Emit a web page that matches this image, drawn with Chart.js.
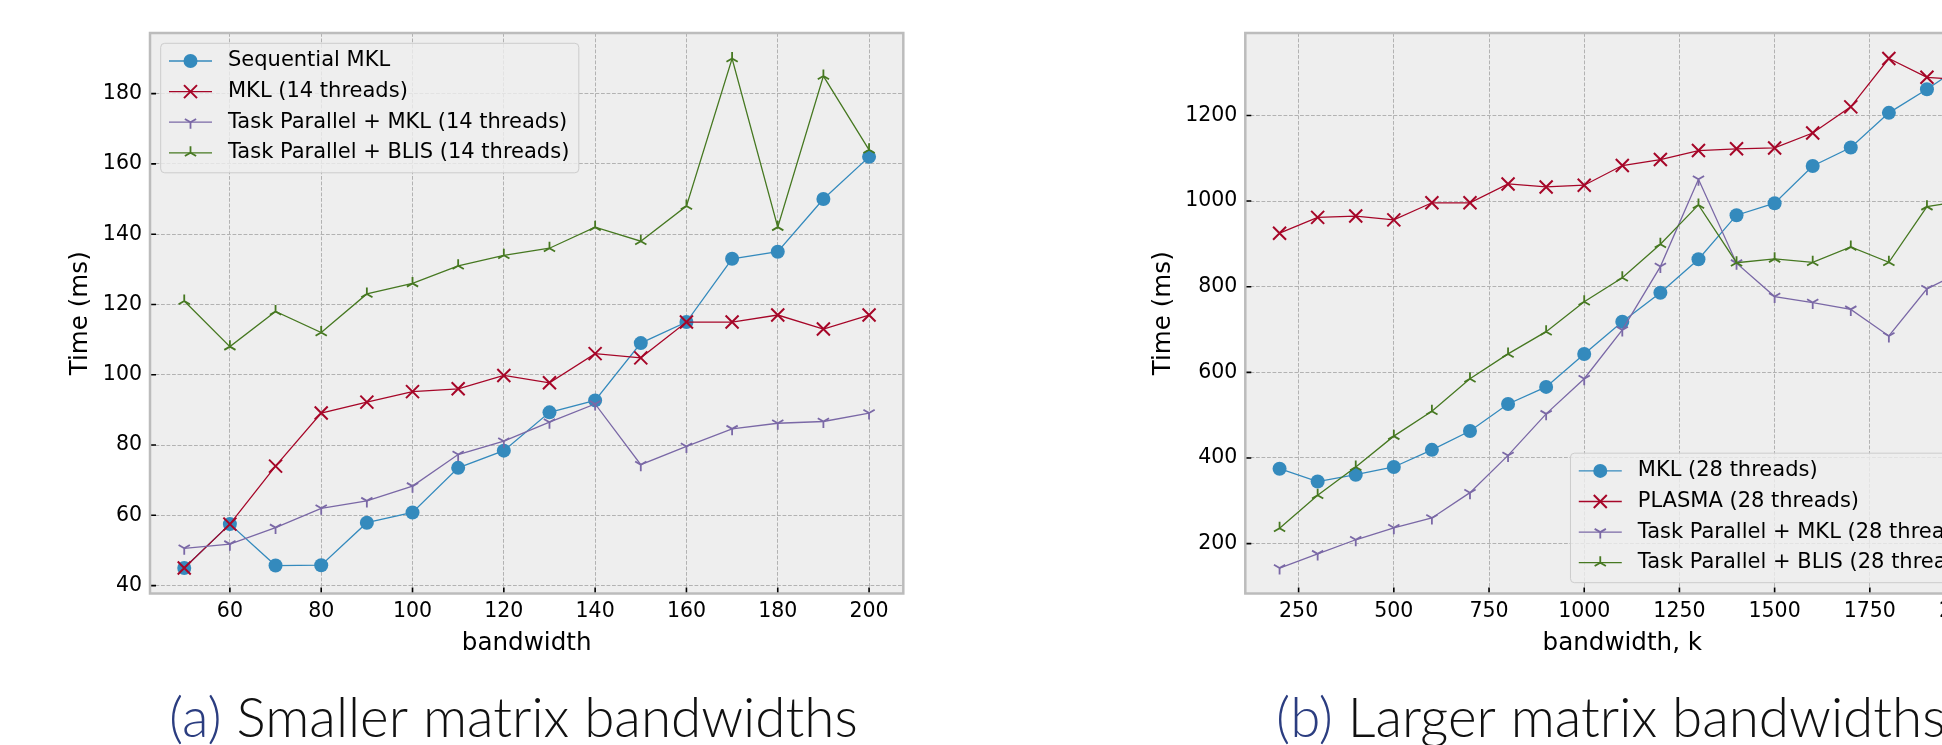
<!DOCTYPE html>
<html lang="en">
<head>
<meta charset="UTF-8" />
<title>Banded solver timings</title>
<script src="https://cdn.jsdelivr.net/npm/chart.js"></script>
<style>
  html, body { margin: 0; padding: 0; background: #fff; overflow: hidden; width: 1942px; height: 745px; }
  canvas { position: absolute; top: 0; }
  #small { left: 0; }
  #large { left: 971px; }
</style>
</head>
<body>
<canvas id="small" width="971" height="745"></canvas>
<canvas id="large" width="1100" height="745"></canvas>
<script>
// (a) smaller bandwidths, 14 threads
const smallBandwidth = [50, 60, 70, 80, 90, 100, 110, 120, 130, 140, 150, 160, 170, 180, 190, 200];
const seqMklSmall   = [45, 57.5, 45.7, 45.8, 57.9, 60.8, 73.5, 78.4, 89.3, 92.7, 109, 115, 133, 135, 150, 162];
const mkl14Small    = [45, 57.5, 74, 89.1, 92.2, 95.2, 96, 99.8, 97.7, 106, 104.8, 115, 115, 117, 113, 117];
const taskMkl14     = [50.6, 51.8, 56.5, 62, 64.1, 68.3, 77.3, 81.1, 86.5, 91.7, 74.4, 79.6, 84.6, 86.2, 86.7, 89.1];
const taskBlis14    = [121, 108, 118, 112, 123, 126, 131, 134, 136, 142, 138, 148, 190, 142, 185, 164];
const smallXTicks = [60, 80, 100, 120, 140, 160, 180, 200];
const smallYTicks = [40, 60, 80, 100, 120, 140, 160, 180];

// (b) larger bandwidths, 28 threads
const largeBandwidth = [200, 300, 400, 500, 600, 700, 800, 900, 1000, 1100, 1200, 1300, 1400, 1500, 1600, 1700, 1800, 1900, 2000];
const mkl28      = [375, 345, 361, 379, 419, 463, 526, 566, 643, 718, 786, 864, 967, 995, 1082, 1125, 1206, 1261, 1321];
const plasma28   = [925, 962, 965, 956, 996, 996, 1040, 1033, 1037, 1083, 1097, 1118, 1122, 1124, 1159, 1220, 1333, 1289, 1283];
const taskMkl28  = [143, 176, 209, 237, 260, 319, 406, 503, 585, 699, 847, 1051, 855, 777, 763, 747, 685, 795, 839];
const taskBlis28 = [236, 313, 379, 451, 509, 585, 643, 695, 765, 821, 899, 991, 856, 865, 857, 893, 857, 987, 1001];
const largeXTicks = [250, 500, 750, 1000, 1250, 1500, 1750, 2000];
const largeYTicks = [200, 400, 600, 800, 1000, 1200];

const BLUE = '#348ABD', RED = '#A60628', PURPLE = '#7A68A6', GREEN = '#467821';
const TICK_FONT = '20.5px "DejaVu Sans"';
const LEGEND_FONT = '21px "DejaVu Sans"';
const LABEL_FONT = '24.6px "DejaVu Sans"';
const CAPTION_FAMILY = 'Lato, "Open Sans"';

Chart.defaults.font.family = 'DejaVu Sans';

// caption size: fit "(a) Smaller matrix bandwidths" to its width in the paper figure
const probe = document.createElement('canvas').getContext('2d');
probe.font = '300 46px ' + CAPTION_FAMILY;
const captionSize = 46 * 689 / probe.measureText('(a) Smaller matrix bandwidths').width;
const CAPTION_FONT = '300 ' + captionSize.toFixed(1) + 'px ' + CAPTION_FAMILY;

function drawMarker(ctx, kind, x, y, color) {
  ctx.save();
  ctx.fillStyle = color;
  ctx.strokeStyle = color;
  ctx.beginPath();
  if (kind === 'o') {
    ctx.arc(x, y, 7, 0, Math.PI * 2);
    ctx.fill();
  } else if (kind === 'x') {
    const h = 6.5;
    ctx.lineWidth = 2;
    ctx.moveTo(x - h, y - h); ctx.lineTo(x + h, y + h);
    ctx.moveTo(x - h, y + h); ctx.lineTo(x + h, y - h);
    ctx.stroke();
  } else {
    // tri_down looks like a Y, tri_up like an upside-down Y
    const r = 6.5, d = kind === 'tri_down' ? 1 : -1;
    ctx.lineWidth = 1.8;
    ctx.moveTo(x, y); ctx.lineTo(x, y + d * r);
    ctx.moveTo(x, y); ctx.lineTo(x - 0.866 * r, y - d * 0.5 * r);
    ctx.moveTo(x, y); ctx.lineTo(x + 0.866 * r, y - d * 0.5 * r);
    ctx.stroke();
  }
  ctx.restore();
}

function paddedRange(lists) {
  const all = lists.flat();
  const lo = Math.min(...all), hi = Math.max(...all);
  const m = (hi - lo) * 0.05;
  return { min: lo - m, max: hi + m };
}

function buildPanel(id, opt) {
  const canvas = document.getElementById(id);
  const xr = paddedRange([opt.x]);
  const yr = paddedRange(opt.series.map(s => s.values));

  const look = {
    id: 'mplLook',
    beforeDraw(chart) {
      const a = chart.chartArea, ctx = chart.ctx;
      ctx.save();
      ctx.fillStyle = '#eeeeee';
      ctx.fillRect(a.left, a.top, a.right - a.left, a.bottom - a.top);
      ctx.restore();
    },
    afterDatasetDraw(chart, args) {
      const s = opt.series[args.index];
      args.meta.data.forEach(pt => drawMarker(chart.ctx, s.marker, pt.x, pt.y, s.color));
    },
    afterDatasetsDraw(chart) {
      const a = chart.chartArea, ctx = chart.ctx;
      ctx.save();
      // inward tick marks
      ctx.strokeStyle = '#000';
      ctx.lineWidth = 1.6;
      ctx.beginPath();
      chart.scales.x.ticks.forEach(t => {
        const px = chart.scales.x.getPixelForValue(t.value);
        ctx.moveTo(px, a.bottom); ctx.lineTo(px, a.bottom - 6);
      });
      chart.scales.y.ticks.forEach(t => {
        const py = chart.scales.y.getPixelForValue(t.value);
        ctx.moveTo(a.left, py); ctx.lineTo(a.left + 6, py);
      });
      ctx.stroke();
      // frame
      ctx.strokeStyle = '#bcbcbc';
      ctx.lineWidth = 2.5;
      ctx.strokeRect(a.left, a.top, a.right - a.left, a.bottom - a.top);
      ctx.restore();
    },
    afterDraw(chart) {
      const a = chart.chartArea, ctx = chart.ctx;
      ctx.save();

      // legend
      ctx.font = LEGEND_FONT;
      const textW = Math.max(...opt.series.map(s => ctx.measureText(s.label).width));
      const w = 67.3 + textW + 9.5, h = 129.5;
      let left, top;
      if (opt.legend === 'upper left') { left = a.left + 10.7; top = a.top + 10.3; }
      else { left = a.right - 10.7 - w; top = a.bottom - 10.8 - h; }
      ctx.beginPath();
      ctx.roundRect(left, top, w, h, 4);
      ctx.fillStyle = 'rgba(238,238,238,0.8)';
      ctx.fill();
      ctx.strokeStyle = '#cccccc';
      ctx.lineWidth = 1;
      ctx.stroke();
      opt.series.forEach((s, i) => {
        const ry = top + 17.7 + i * 30.6;
        ctx.beginPath();
        ctx.strokeStyle = s.color;
        ctx.lineWidth = 1.3;
        ctx.moveTo(left + 8.3, ry); ctx.lineTo(left + 51.3, ry);
        ctx.stroke();
        drawMarker(ctx, s.marker, left + 29.8, ry, s.color);
        ctx.fillStyle = '#000';
        ctx.textAlign = 'left';
        ctx.textBaseline = 'middle';
        ctx.fillText(s.label, left + 67.3, ry);
      });

      // axis titles
      ctx.fillStyle = '#000';
      ctx.font = LABEL_FONT;
      ctx.textAlign = 'center';
      ctx.textBaseline = 'alphabetic';
      ctx.fillText(opt.xTitle, (a.left + a.right) / 2, 650);
      ctx.font = TICK_FONT;
      const tickW = Math.max(...chart.scales.y.ticks.map(t => ctx.measureText(t.label).width));
      ctx.font = LABEL_FONT;
      ctx.translate(a.left - 8 - tickW - 22, (a.top + a.bottom) / 2);
      ctx.rotate(-Math.PI / 2);
      ctx.textBaseline = 'middle';
      ctx.fillText(opt.yTitle, 0, 0);
      ctx.setTransform(1, 0, 0, 1, 0, 0);

      // sub-figure caption
      ctx.font = CAPTION_FONT;
      ctx.textAlign = 'left';
      ctx.textBaseline = 'alphabetic';
      ctx.fillStyle = '#2b3d80';
      ctx.fillText(opt.captionTag, opt.captionX, 737);
      const tagW = ctx.measureText(opt.captionTag + ' ').width;
      ctx.fillStyle = '#111';
      ctx.fillText(opt.caption, opt.captionX + tagW, 737);
      ctx.restore();
    }
  };

  const tickFont = { family: 'DejaVu Sans', size: 20.5 };
  const gridCfg = { color: '#b2b2b2', lineWidth: 1, drawTicks: false, tickLength: 0 };
  const borderCfg = { display: false, dash: [3.8, 1.7] };

  return new Chart(canvas, {
    type: 'line',
    data: {
      datasets: opt.series.map((s, i) => ({
        label: s.label,
        data: opt.x.map((xv, j) => ({ x: xv, y: s.values[j] })),
        borderColor: s.color,
        backgroundColor: s.color,
        borderWidth: 1.3,
        pointRadius: 0,
        tension: 0,
        fill: false,
        order: opt.series.length - 1 - i
      }))
    },
    options: {
      responsive: false,
      animation: false,
      devicePixelRatio: 1,
      events: [],
      layout: { padding: { left: 0, right: opt.padRight, top: 33, bottom: 0 } },
      plugins: { legend: { display: false }, tooltip: { enabled: false } },
      scales: {
        x: {
          type: 'linear', min: xr.min, max: xr.max,
          afterBuildTicks: s => { s.ticks = opt.xTicks.map(v => ({ value: v })); },
          afterFit: s => { s.height = 745 - 593.5; s.paddingLeft = 0; s.paddingRight = 0; },
          ticks: { autoSkip: false, maxRotation: 0, padding: 6, color: '#000', font: tickFont, callback: v => String(v) },
          grid: gridCfg, border: borderCfg
        },
        y: {
          type: 'linear', min: yr.min, max: yr.max,
          afterBuildTicks: s => { s.ticks = opt.yTicks.map(v => ({ value: v })); },
          afterFit: s => { s.width = opt.plotLeft; s.paddingTop = 0; s.paddingBottom = 0; },
          ticks: { autoSkip: false, padding: 8, color: '#000', font: tickFont, callback: v => String(v) },
          grid: gridCfg, border: borderCfg
        }
      }
    },
    plugins: [look]
  });
}

buildPanel('small', {
  x: smallBandwidth,
  xTicks: smallXTicks,
  yTicks: smallYTicks,
  plotLeft: 150,
  padRight: 67.7,
  xTitle: 'bandwidth',
  yTitle: 'Time (ms)',
  legend: 'upper left',
  captionTag: '(a)',
  caption: 'Smaller matrix bandwidths',
  captionX: 169,
  series: [
    { label: 'Sequential MKL', values: seqMklSmall, color: BLUE, marker: 'o' },
    { label: 'MKL (14 threads)', values: mkl14Small, color: RED, marker: 'x' },
    { label: 'Task Parallel + MKL (14 threads)', values: taskMkl14, color: PURPLE, marker: 'tri_down' },
    { label: 'Task Parallel + BLIS (14 threads)', values: taskBlis14, color: GREEN, marker: 'tri_up' }
  ]
});

buildPanel('large', {
  x: largeBandwidth,
  xTicks: largeXTicks,
  yTicks: largeYTicks,
  plotLeft: 274.3,
  padRight: 71.7,
  xTitle: 'bandwidth, k',
  yTitle: 'Time (ms)',
  legend: 'lower right',
  captionTag: '(b)',
  caption: 'Larger matrix bandwidths',
  captionX: 305,
  series: [
    { label: 'MKL (28 threads)', values: mkl28, color: BLUE, marker: 'o' },
    { label: 'PLASMA (28 threads)', values: plasma28, color: RED, marker: 'x' },
    { label: 'Task Parallel + MKL (28 threads)', values: taskMkl28, color: PURPLE, marker: 'tri_down' },
    { label: 'Task Parallel + BLIS (28 threads)', values: taskBlis28, color: GREEN, marker: 'tri_up' }
  ]
});
</script>
</body>
</html>
